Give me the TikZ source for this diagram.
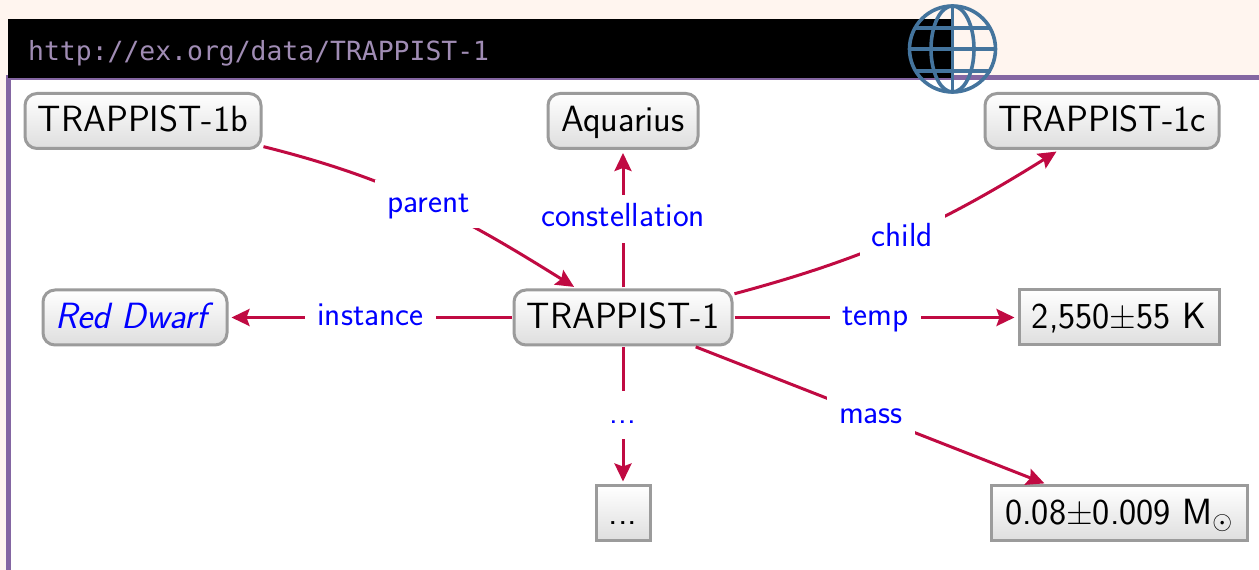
\RequirePackage{fix-cm}
\documentclass[tikz,border=0pt]{standalone}
\usepackage{fontspec}
\usetikzlibrary{arrows.meta}
\newfontfamily\urlfont{DejaVu Sans Mono}
\definecolor{pagebg}{HTML}{FFF5EF}
\definecolor{framecol}{HTML}{8466A2}
\definecolor{urlcol}{HTML}{A08CB4}
\definecolor{globecol}{HTML}{44749D}
\definecolor{edgecol}{HTML}{C00A42}
\definecolor{nodeline}{HTML}{9B9B9B}
\definecolor{nodebot}{HTML}{DEDEDE}
\tikzset{
  x=1pt,y=1pt,
  base/.style={draw=nodeline,line width=3pt,top color=white,bottom color=nodebot,
    inner sep=0pt,minimum height=55pt,text height=24pt,text depth=2pt,text=black,
    font=\sffamily\fontsize{36.5}{40}\selectfont},
  res/.style={base,rounded corners=12pt},
  lit/.style={base,rectangle},
  rel/.style={line width=3pt,draw=edgecol,-{Stealth[length=18pt,width=17pt,inset=3pt]},shorten >=3pt,shorten <=1pt},
  lab/.style={fill=white,text=blue,inner xsep=12pt,inner ysep=0pt,minimum height=48pt,
    text height=19pt,text depth=3pt,font=\sffamily\fontsize{33.4}{36}\selectfont},
  globeline/.style={draw=globecol,line width=3.6pt}
}
\begin{document}
\begin{tikzpicture}
\useasboundingbox (0,0) rectangle (1259,570);
\fill[pagebg] (0,0) rectangle (1259,570);
\fill[white] (8,0) rectangle (1259,492);
\draw[framecol,line width=5pt] (8,0) -- (8,492) -- (1259,492);
\fill[black] (8,492) rectangle (951,551);
\node[anchor=base west,inner sep=0pt,text=urlcol,font=\urlfont\fontsize{26.4}{30}\selectfont] (url) at (28,509) {http://ex.org/data/TRAPPIST-1};
% globe
\draw[globeline] (952.5,521) circle (43);
\draw[globeline] (952.5,521) ellipse (21.5 and 43);
\draw[globeline] (952.5,564) -- (952.5,478);
\draw[globeline] (909.5,521) -- (995.5,521);
\draw[globeline] (914.5,542) -- (990.5,542);
\draw[globeline] (914.5,499) -- (990.5,499);
% nodes
\node[res,minimum width=236pt] (tb) at (143,449) {TRAPPIST-1b};
\node[res,minimum width=150pt] (aq) at (623,449) {Aquarius};
\node[res,minimum width=234pt] (tc) at (1102,449) {TRAPPIST-1c};
\node[res,minimum width=184pt,text=blue] (rd) at (135,252.5) {\itshape Red Dwarf\kern8pt};
\node[res,minimum width=218pt] (tr) at (623,252.5) {TRAPPIST-1};
\node[lit,minimum width=200pt] (tp) at (1119,252.5) {2,550±55 K};
\node[lit,minimum width=54pt] (dd) at (623,56.5) {...};
\node[lit,minimum width=256pt] (ms) at (1119,56.5) {0.08±0.009 M$_\odot$};
% connectors
\draw[rel] (tb.-12.5) to[out=-14,in=148] node[lab,pos=.51] {parent} (tr.148);
\draw[rel] (tr.north) -- node[lab,pos=.505] {constellation} (aq.south);
\draw[rel] (tr.12) to[out=15,in=-148] node[lab,pos=.5,yshift=-2pt] {child} (tc.-146);
\draw[rel] (tr.west) -- node[lab,pos=.5] {instance} (rd.east);
\draw[rel] (tr.east) -- node[lab,pos=.5] {temp} (tp.west);
\draw[rel] (tr.-22) -- node[lab,pos=.5] {mass} (ms.158);
\draw[rel] (tr.south) -- node[lab,pos=.5] {...} (dd.north);
\end{tikzpicture}
\end{document}
